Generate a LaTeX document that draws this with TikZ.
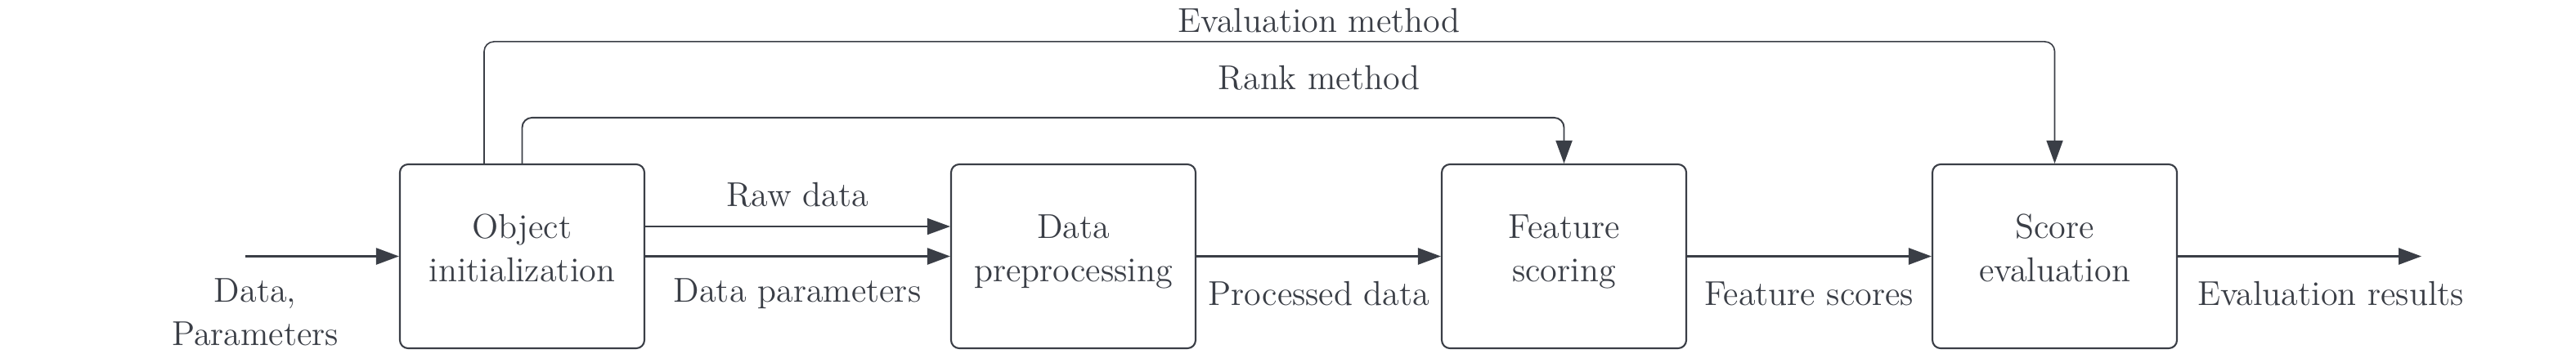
\documentclass[tikz,border=0pt]{standalone}
\usepackage{tikz}
\usetikzlibrary{arrows.meta}
\definecolor{ardoise}{RGB}{58,62,70}
\tikzset {bloc/.style={draw=ardoise, line width=0.6pt, rounded corners=0.1cm,
            minimum width=2.99cm, minimum height=2.25cm, align=center, text=ardoise,
            text depth=0.2cm}}
\tikzset {fleche/.style={-{Triangle[length=0.28cm,width=0.2cm]}, draw=ardoise, line width=0.75pt},
          fine/.style={fleche, line width=0.45pt},
          etiquette/.style={text=ardoise, align=center}}

\begin{document}
\begin{tikzpicture}[font=\fontsize{12}{15}\selectfont]
  \useasboundingbox (0,0) rectangle (31.5,4.32);
  \node [bloc] (init) at (6.385,1.185) {Object\\initialization};
  \node [bloc] (prep) at (13.125,1.185) {Data\\preprocessing};
  \node [bloc] (score) at (19.125,1.185) {Feature\\scoring};
  \node [bloc] (eval) at (25.125,1.185) {Score\\evaluation};
  \coordinate (entree) at (3.0,1.185);
  \coordinate (sortie) at (29.61,1.185);
  \draw [fleche] (entree) -- (init);
  \draw [fine] ([yshift=0.365cm]init.east) -- ([yshift=0.365cm]prep.west);
  \draw [fleche] (init) -- (prep);
  \draw [fleche] (prep) -- (score);
  \draw [fleche] (score) -- (eval);
  \draw [fleche] (eval) -- (sortie);
  \draw [fine, rounded corners=0.12cm]
    ([xshift=-0.465cm]init.north) -- ++(0,1.49) -| (eval.north);
  \draw [fine, line width=0.55pt, rounded corners=0.12cm]
    (init.north) -- ++(0,0.56) -| (score.north);
  \node [etiquette] (lentree) at (3.12,0.50) {Data,\\Parameters};
  \node [etiquette] (lbrut) at (9.75,1.94) {Raw data};
  \node [etiquette] (lparam) at (9.75,0.73) {Data parameters};
  \node [etiquette] (ltraite) at (16.13,0.73) {Processed data};
  \node [etiquette] (lscores) at (22.12,0.73) {Feature scores};
  \node [etiquette] (lresult) at (28.5,0.73) {Evaluation results};
  \node [etiquette] (lrang) at (16.13,3.37) {Rank method};
  \node [etiquette] (lmethode) at (16.13,4.07) {Evaluation method};
\end{tikzpicture}
\end{document}
